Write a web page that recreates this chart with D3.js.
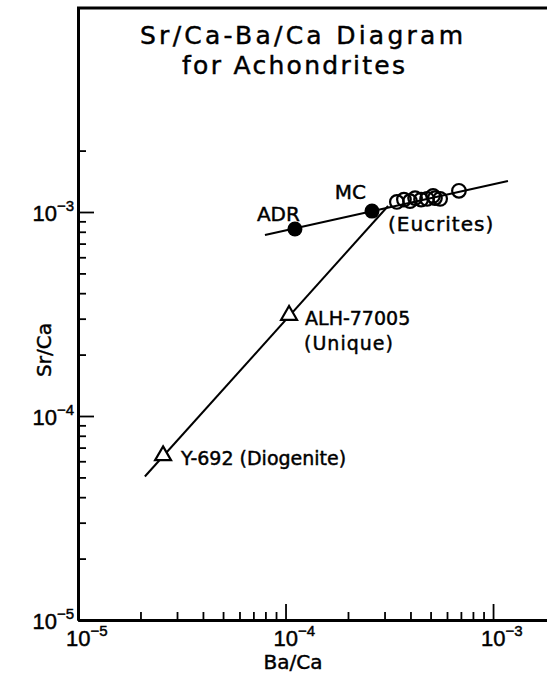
<!DOCTYPE html>
<html>
<head>
<meta charset="utf-8">
<script src="https://cdn.jsdelivr.net/npm/d3@7"></script>
<style>
  body { margin: 0; background: #fff; }
  text { font-family: "DejaVu Sans", sans-serif; fill: #000; stroke: #000; stroke-width: 0.45; }
  .tick-num { font-family: "Liberation Sans", sans-serif; }
</style>
</head>
<body>
<div id="chart"></div>
<script>
// eucrites (open circles)
var eucriteBa = [3.44e-4, 3.72e-4, 3.98e-4, 4.21e-4, 4.50e-4, 4.81e-4, 5.14e-4, 5.25e-4, 5.56e-4, 6.85e-4];
var eucriteSr = [1.12e-3, 1.15e-3, 1.13e-3, 1.17e-3, 1.15e-3, 1.16e-3, 1.20e-3, 1.17e-3, 1.16e-3, 1.27e-3];

// filled circles
var dotNames = ["ADR", "MC"];
var dotBa = [1.11e-4, 2.61e-4];
var dotSr = [8.25e-4, 1.01e-3];

// unique + diogenite (open triangles)
var triNames = ["ALH-77005", "Y-692"];
var triBa = [1.04e-4, 2.57e-5];
var triSr = [3.12e-4, 6.4e-5];

// two trend lines
var lineA_Ba = [7.96e-5, 1.18e-3];
var lineA_Sr = [7.71e-4, 1.42e-3];
var lineB_Ba = [2.10e-5, 3.12e-4];
var lineB_Sr = [5.05e-5, 1.07e-3];

// ticks
var majorTicks = [1e-5, 1e-4, 1e-3];
var majorExp = ["\u22125", "\u22124", "\u22123"];
var xMinor = [2e-5,3e-5,4e-5,5e-5,6e-5,7e-5,8e-5,9e-5,2e-4,3e-4,4e-4,5e-4,6e-4,7e-4,8e-4,9e-4];
var yMinor = [2e-5,3e-5,4e-5,5e-5,6e-5,7e-5,8e-5,9e-5,2e-4,3e-4,4e-4,5e-4,6e-4,7e-4,8e-4,9e-4,2e-3];

var W = 547, H = 674;
var svg = d3.select("#chart").append("svg").attr("width", W).attr("height", H);

var x = d3.scaleLog().domain([1e-5, Math.pow(10, -2.74)]).range([78, 547]);
var y = d3.scaleLog().domain([1e-5, 1e-2]).range([620, 8]);

//axes - ticks point inward
function noLabel() { return ""; }
svg.append("g").attr("transform", "translate(0,620)")
  .call(d3.axisBottom(x).tickValues(majorTicks).tickSizeInner(-16).tickSizeOuter(0).tickFormat(noLabel));
svg.append("g").attr("transform", "translate(0,620)")
  .call(d3.axisBottom(x).tickValues(xMinor).tickSizeInner(-8).tickSizeOuter(0).tickFormat(noLabel));
svg.append("g").attr("transform", "translate(78,0)")
  .call(d3.axisLeft(y).tickValues(majorTicks).tickSizeInner(-16).tickSizeOuter(0).tickFormat(noLabel));
svg.append("g").attr("transform", "translate(78,0)")
  .call(d3.axisLeft(y).tickValues(yMinor).tickSizeInner(-8).tickSizeOuter(0).tickFormat(noLabel));
svg.selectAll(".domain").attr("stroke", "#000").attr("stroke-width", 3);
svg.selectAll(".tick line").attr("stroke", "#000").attr("stroke-width", 1.8);

// top frame line
svg.append("line").attr("x1", 77).attr("x2", W).attr("y1", y(1e-2)).attr("y2", y(1e-2))
  .attr("stroke", "#000").attr("stroke-width", 3);

// tick labels with superscript
function powLabel(sel) {
  sel.append("tspan").text("10");
  sel.append("tspan").attr("dy", -10).attr("font-size", 15).text(function (d, i) { return majorExp[i]; });
}
svg.append("g").selectAll("text").data(majorTicks).enter().append("text")
  .attr("class", "tick-num").attr("font-size", 22)
  .attr("x", function (d) { return x(d) - 12; }).attr("y", 646)
  .call(powLabel);
svg.append("g").selectAll("text").data(majorTicks).enter().append("text")
  .attr("class", "tick-num").attr("font-size", 22).attr("text-anchor", "end")
  .attr("x", 74).attr("y", function (d) { return y(d) + 9; })
  .call(powLabel);

// axis titles
svg.append("text").attr("x", 293).attr("y", 669).attr("text-anchor", "middle")
  .attr("font-size", 20).text("Ba/Ca");
svg.append("text").attr("transform", "translate(51,350)rotate(-90)").attr("text-anchor", "middle")
  .attr("font-size", 20).text("Sr/Ca");

// title
svg.append("text").attr("x", 140).attr("y", 44).attr("font-size", 25)
  .attr("textLength", 323).attr("lengthAdjust", "spacing").text("Sr/Ca-Ba/Ca Diagram");
svg.append("text").attr("x", 182).attr("y", 74).attr("font-size", 25)
  .attr("textLength", 223).attr("lengthAdjust", "spacing").text("for Achondrites");

// trend lines
var line = d3.line().x(function (d) { return x(d[0]); }).y(function (d) { return y(d[1]); });
svg.append("path").datum(d3.zip(lineA_Ba, lineA_Sr)).attr("d", line)
  .attr("fill", "none").attr("stroke", "#000").attr("stroke-width", 2);
svg.append("path").datum(d3.zip(lineB_Ba, lineB_Sr)).attr("d", line)
  .attr("fill", "none").attr("stroke", "#000").attr("stroke-width", 2);

// eucrites
svg.append("g").selectAll("circle").data(d3.zip(eucriteBa, eucriteSr)).enter().append("circle")
  .attr("cx", function (d) { return x(d[0]); }).attr("cy", function (d) { return y(d[1]); })
  .attr("r", 6.8).attr("fill", "none").attr("stroke", "#000").attr("stroke-width", 2.2);

// filled dots
svg.append("g").selectAll("circle").data(d3.zip(dotBa, dotSr)).enter().append("circle")
  .attr("cx", function (d) { return x(d[0]); }).attr("cy", function (d) { return y(d[1]); })
  .attr("r", 7.5).attr("fill", "#000");

// triangles
var tri = d3.symbol().type(d3.symbolTriangle).size(110);
svg.append("g").selectAll("path").data(d3.zip(triBa, triSr)).enter().append("path")
  .attr("d", tri)
  .attr("transform", function (d) { return "translate(" + x(d[0]) + "," + y(d[1]) + ")"; })
  .attr("fill", "#fff").attr("stroke", "#000").attr("stroke-width", 2.2);

// point labels
svg.append("text").attr("x", x(dotBa[0]) + 5).attr("y", y(dotSr[0]) - 8)
  .attr("text-anchor", "end").attr("font-size", 20).text(dotNames[0]);
svg.append("text").attr("x", x(dotBa[1]) - 6).attr("y", y(dotSr[1]) - 12)
  .attr("text-anchor", "end").attr("font-size", 20).text(dotNames[1]);
svg.append("text").attr("x", x(dotBa[1]) + 16).attr("y", y(dotSr[1]) + 20)
  .attr("font-size", 20).attr("letter-spacing", 1).text("(Eucrites)");
svg.append("text").attr("x", x(triBa[0]) + 16).attr("y", y(triSr[0]) + 10)
  .attr("font-size", 19).text(triNames[0]);
svg.append("text").attr("x", x(triBa[0]) + 15).attr("y", y(triSr[0]) + 35)
  .attr("font-size", 19).attr("letter-spacing", 1).text("(Unique)");
svg.append("text").attr("x", x(triBa[1]) + 18).attr("y", y(triSr[1]) + 9)
  .attr("font-size", 19).text(triNames[1] + " (Diogenite)");
</script>
</body>
</html>
